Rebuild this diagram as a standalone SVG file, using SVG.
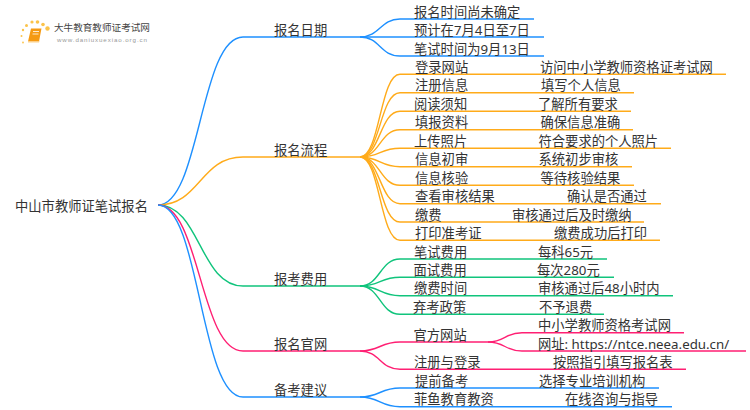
<svg xmlns="http://www.w3.org/2000/svg" width="750" height="410" viewBox="0 0 750 410">
<style>
text{font-family:"Noto Sans","Noto Sans CJK SC",sans-serif;font-size:13.3px;fill:#333}
#connectors path{fill:none;stroke-width:1.4}
.b{stroke:#1e90ff}.o{stroke:#ffab1a}.g{stroke:#10c47c}.p{stroke:#ff1f73}
.dot{fill:#fbc34a}
</style>
<rect width="750" height="410" fill="#fff"/>
<g id="logo">
<circle class="dot" cx="47.500" cy="28.500" r="2.200"/><circle class="dot" cx="43" cy="24.500" r="1.800"/><circle class="dot" cx="37.500" cy="22" r="1.800"/><circle class="dot" cx="32" cy="22" r="1.600"/><circle class="dot" cx="26.500" cy="25.500" r="1.500"/><circle class="dot" cx="23" cy="30" r="1.200"/><circle class="dot" cx="21.500" cy="36" r="1"/><circle class="dot" cx="23" cy="42.500" r="0.900"/>
<path d="M31 28.500h10.500l-2.500 13h-11z" fill="#f59a12"/><path d="M28 41.500h11l1-1.500-1 2.500h-11z" fill="#fbd28a"/><path d="M33 31.500h6M32.500 34h6" stroke="#fff" stroke-width="0.800" fill="none"/>
<text x="54" y="31" style="font-size:9.600px;fill:#444">大牛教育教师证考试网</text>
<text x="57" y="41.500" style="font-family:'Liberation Sans',sans-serif;font-size:6.200px;letter-spacing:0.900px;fill:#999">www.daniuxuexiao.org.cn</text>
</g>
<g id="connectors">
<path class="b" d="M158 205C200 205 200 37 243 37H360"/>
<path class="o" d="M158 205C200 205 200 157 243 157H360"/>
<path class="g" d="M158 205C200 205 200 286 243 286H360"/>
<path class="p" d="M158 205C200 205 200 351 243 351H360"/>
<path class="b" d="M158 205C200 205 200 397 243 397H360"/>
<path class="b" d="M360 37C380 37 380 19 400 19H534"/>
<path class="b" d="M360 37H544"/>
<path class="b" d="M360 37C380 37 380 56 400 56H544"/>
<path class="o" d="M360 157C380 157 380 74.300 400 74.300H726"/>
<path class="o" d="M360 157C380 157 380 92.700 400 92.700H634"/>
<path class="o" d="M360 157C380 157 380 111.300 400 111.300H631"/>
<path class="o" d="M360 157C380 157 380 129.700 400 129.700H633"/>
<path class="o" d="M360 157C380 157 380 148.300 400 148.300H671"/>
<path class="o" d="M360 157C380 157 380 166.700 400 166.700H632"/>
<path class="o" d="M360 157C380 157 380 185.300 400 185.300H634"/>
<path class="o" d="M360 157C380 157 380 203.700 400 203.700H661"/>
<path class="o" d="M360 157C380 157 380 222 400 222H644"/>
<path class="o" d="M360 157C380 157 380 240.300 400 240.300H660"/>
<path class="g" d="M360 286C380 286 380 259 400 259H607"/>
<path class="g" d="M360 286C380 286 380 277.300 400 277.300H614"/>
<path class="g" d="M360 286C380 286 380 295.700 400 295.700H673"/>
<path class="g" d="M360 286C380 286 380 314.300 400 314.300H604"/>
<path class="p" d="M360 351C380 351 380 342 400 342H488"/>
<path class="p" d="M488 342C505 342 505 332.700 522 332.700H684"/>
<path class="p" d="M488 342C505 342 505 351 522 351H746"/>
<path class="p" d="M360 351C380 351 380 369.300 400 369.300H686"/>
<path class="b" d="M360 397C380 397 380 388 400 388H659"/>
<path class="b" d="M360 397C380 397 380 406.700 400 406.700H672"/>
</g>
<g id="root"><text x="15" y="210.500">中山市教师证笔试报名</text></g>
<g id="n1"><text x="274" y="34.700">报名日期</text></g>
<g id="n2"><text x="274" y="154.700">报名流程</text></g>
<g id="n3"><text x="274" y="283.700">报考费用</text></g>
<g id="n4"><text x="274" y="348.700">报名官网</text></g>
<g id="n5"><text x="274" y="394.700">备考建议</text></g>
<g id="n1-1"><text x="414" y="16.700">报名时间尚未确定</text></g>
<g id="n1-2"><text x="414" y="35.200">预计在7月4日至7日</text></g>
<g id="n1-3"><text x="414" y="53.700">笔试时间为9月13日</text></g>
<g id="n2-1"><text x="415" y="72">登录网站</text><text x="540" y="72">访问中小学教师资格证考试网</text></g>
<g id="n2-2"><text x="415" y="90.400">注册信息</text><text x="541" y="90.400">填写个人信息</text></g>
<g id="n2-3"><text x="414" y="109">阅读须知</text><text x="538" y="109">了解所有要求</text></g>
<g id="n2-4"><text x="415" y="127.400">填报资料</text><text x="540.500" y="127.400">确保信息准确</text></g>
<g id="n2-5"><text x="414" y="146">上传照片</text><text x="538.500" y="146">符合要求的个人照片</text></g>
<g id="n2-6"><text x="415" y="164.400">信息初审</text><text x="538.500" y="164.400">系统初步审核</text></g>
<g id="n2-7"><text x="415" y="183">信息核验</text><text x="540.500" y="183">等待核验结果</text></g>
<g id="n2-8"><text x="415" y="201.400">查看审核结果</text><text x="567" y="201.400">确认是否通过</text></g>
<g id="n2-9"><text x="415" y="219.700">缴费</text><text x="512" y="219.700">审核通过后及时缴纳</text></g>
<g id="n2-10"><text x="415" y="238">打印准考证</text><text x="554" y="238">缴费成功后打印</text></g>
<g id="n3-1"><text x="414" y="256.700">笔试费用</text><text x="538" y="256.700">每科65元</text></g>
<g id="n3-2"><text x="413.500" y="275">面试费用</text><text x="537" y="275">每次280元</text></g>
<g id="n3-3"><text x="414" y="293.400">缴费时间</text><text x="538" y="293.400">审核通过后48小时内</text></g>
<g id="n3-4"><text x="413" y="312">弃考政策</text><text x="539" y="312">不予退费</text></g>
<g id="n4-1"><text x="413.500" y="339.700">官方网站</text></g>
<g id="n4-1-1"><text x="538" y="330.400">中小学教师资格考试网</text></g>
<g id="n4-1-2"><text x="538" y="348.700">网址: https://ntce.neea.edu.cn/</text></g>
<g id="n4-2"><text x="414" y="367">注册与登录</text><text x="553" y="367">按照指引填写报名表</text></g>
<g id="n5-1"><text x="415" y="385.700">提前备考</text><text x="539" y="385.700">选择专业培训机构</text></g>
<g id="n5-2"><text x="414" y="404.400">菲鱼教育教资</text><text x="565" y="404.400">在线咨询与指导</text></g>
</svg>
